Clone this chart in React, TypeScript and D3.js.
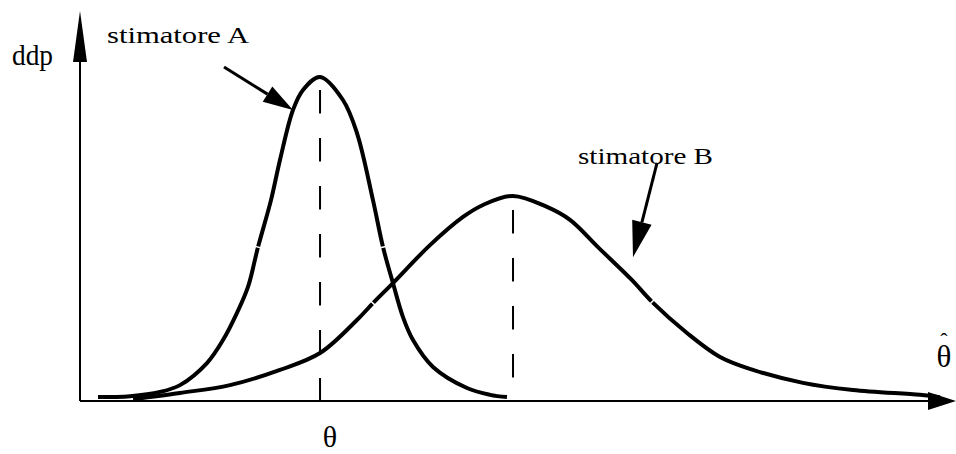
import React from "react";
import * as d3 from "d3";

// ---- data ----
// estimator A density (x in arbitrary θ̂ units 0..100, y density normalised to A's peak)
const curveAX = [2.08, 5.78, 9.25, 11.56, 14.68, 16.53, 18.15, 19.42, 20.58, 22.08, 23.12, 24.62, 25.78, 27.75, 30.4, 32.02, 33.87, 35.03, 36.18, 37.34, 38.5, 40.81, 44.74, 47.4, 49.36];
const curveAY = [0.012, 0.015, 0.028, 0.049, 0.117, 0.188, 0.272, 0.352, 0.475, 0.62, 0.744, 0.898, 0.96, 1.0, 0.929, 0.827, 0.62, 0.475, 0.364, 0.259, 0.188, 0.105, 0.04, 0.019, 0.012];
// estimator B density
const curveBX = [6.13, 11.56, 17.34, 23.12, 27.75, 32.02, 33.87, 36.18, 40.46, 44.28, 46.59, 50.06, 53.99, 56.65, 59.88, 63.82, 66.13, 70.17, 73.99, 77.8, 83.58, 89.36, 97.11, 99.42];
const curveBY = [0.006, 0.025, 0.049, 0.096, 0.148, 0.25, 0.302, 0.364, 0.481, 0.568, 0.605, 0.633, 0.599, 0.559, 0.475, 0.373, 0.306, 0.21, 0.136, 0.096, 0.056, 0.034, 0.019, 0.012];
// little breaks in the drawn strokes (at these x values)
const breaksA = [20.58, 35.03];
const breaksB = [33.87, 66.13];
// annotation arrows: [fromX, fromY, toX, toY] in data units
const arrowA = [16.65, 1.031, 24.62, 0.898];
const arrowB = [66.71, 0.735, 63.93, 0.444];
// texts
const yLabel = "ddp";
const labelA = "stimatore A";
const labelB = "stimatore B";
const thetaLabel = "θ";
const thetaHatLabel = "θ";
const hatMark = "ˆ";

const W = 956;
const H = 454;
const FONT = "Liberation Serif";

const x = d3.scaleLinear().domain([0, 100]).range([80, 945]);
const y = d3.scaleLinear().domain([0, 1]).range([401, 77]);

const line = d3
  .line<[number, number]>()
  .x((d) => x(d[0]))
  .y((d) => y(d[1]))
  .curve(d3.curveCatmullRom.alpha(0.5));

function zip(xs: number[], ys: number[]): [number, number][] {
  return xs.map((v, i) => [v, ys[i]]);
}

function headPoints(x1: number, y1: number, x2: number, y2: number, len: number, hw: number) {
  const dx = x2 - x1;
  const dy = y2 - y1;
  const L = Math.hypot(dx, dy);
  const ux = dx / L;
  const uy = dy / L;
  const bx = x2 - ux * len;
  const by = y2 - uy * len;
  const nx = -uy;
  const ny = ux;
  return {
    pts: `${x2},${y2} ${bx + nx * hw},${by + ny * hw} ${bx - nx * hw},${by - ny * hw}`,
    bx,
    by,
  };
}

function breakMarks(xs: number[], ys: number[], breaks: number[]) {
  return breaks.map((b) => {
    let i = xs.findIndex((v) => v >= b);
    if (i <= 0) i = 1;
    const i0 = Math.max(0, i - 1);
    const i1 = Math.min(xs.length - 1, i + 1);
    const t = (b - xs[i - 1]) / (xs[i] - xs[i - 1]);
    const px = x(b);
    const py = y(ys[i - 1] + t * (ys[i] - ys[i - 1]));
    const dx = x(xs[i1]) - x(xs[i0]);
    const dy = y(ys[i1]) - y(ys[i0]);
    const L = Math.hypot(dx, dy);
    const nx = -dy / L;
    const ny = dx / L;
    return { x1: px - nx * 5, y1: py - ny * 5, x2: px + nx * 5, y2: py + ny * 5 };
  });
}

function Arrow({ a, len, hw }: { a: number[]; len: number; hw: number }) {
  const x1 = x(a[0]);
  const y1 = y(a[1]);
  const x2 = x(a[2]);
  const y2 = y(a[3]);
  const h = headPoints(x1, y1, x2, y2, len, hw);
  return (
    <g>
      <line x1={x1} y1={y1} x2={h.bx} y2={h.by} stroke="#000" strokeWidth={3} />
      <polygon points={h.pts} fill="#000" />
    </g>
  );
}

export default function App() {
  const dataA = zip(curveAX, curveAY);
  const dataB = zip(curveBX, curveBY);
  const peakA = curveAX[d3.maxIndex(curveAY)];
  const peakB = curveBX[d3.maxIndex(curveBY)];
  const y0 = y(0);
  const yHead = headPoints(x(0), y0, x(0), 11, 51, 7);
  const xHead = headPoints(x(0), y0, 956, y0, 28, 9);
  const marks = [...breakMarks(curveAX, curveAY, breaksA), ...breakMarks(curveBX, curveBY, breaksB)];
  const textStyle = { fontFamily: FONT };

  return (
    <svg width={W} height={H} style={{ position: "absolute", left: 0, top: 0 }}>
      <rect x={0} y={0} width={W} height={H} fill="#fff" />
      {/* axes */}
      <line x1={x(0)} y1={y0} x2={x(0)} y2={yHead.by} stroke="#000" strokeWidth={2} />
      <polygon points={yHead.pts} fill="#000" />
      <line x1={x(0)} y1={y0} x2={xHead.bx} y2={y0} stroke="#000" strokeWidth={2} />
      <polygon points={xHead.pts} fill="#000" />

      {/* dashed lines at the peaks */}
      <line
        x1={x(peakA)}
        x2={x(peakA)}
        y1={y(d3.max(curveAY) as number) + 13}
        y2={y0}
        stroke="#000"
        strokeWidth={2}
        strokeDasharray="23.5 24.5"
      />
      <line
        x1={x(peakB)}
        x2={x(peakB)}
        y1={y(d3.max(curveBY) as number) + 14}
        y2={y0}
        stroke="#000"
        strokeWidth={2}
        strokeDasharray="23.5 24.5"
      />

      {/* curves */}
      <path d={line(dataA) || ""} fill="none" stroke="#000" strokeWidth={4} strokeLinejoin="round" />
      <path d={line(dataB) || ""} fill="none" stroke="#000" strokeWidth={4} strokeLinejoin="round" />
      {marks.map((m, i) => (
        <line key={i} x1={m.x1} y1={m.y1} x2={m.x2} y2={m.y2} stroke="#fff" strokeWidth={1.5} />
      ))}

      {/* annotation arrows */}
      <Arrow a={arrowA} len={30} hw={9} />
      <Arrow a={arrowB} len={36} hw={10} />

      {/* texts */}
      <text x={12} y={65} fontFamily={FONT} fontSize={30} textLength={41} lengthAdjust="spacingAndGlyphs" style={textStyle}>
        {yLabel}
      </text>
      <text x={107} y={43} fontFamily={FONT} fontSize={24} textLength={142} lengthAdjust="spacingAndGlyphs" style={textStyle}>
        {labelA}
      </text>
      <text x={578} y={164} fontFamily={FONT} fontSize={24} textLength={135} lengthAdjust="spacingAndGlyphs" style={textStyle}>
        {labelB}
      </text>
      <text x={x(peakA) + 10} y={447} fontFamily={FONT} fontSize={30} textAnchor="middle" style={textStyle}>
        {thetaLabel}
      </text>
      <text x={944} y={367} fontFamily={FONT} fontSize={31} textAnchor="middle" style={textStyle}>
        <tspan>{thetaHatLabel}</tspan>
        <tspan x={944} y={348} fontSize={22}>
          {hatMark}
        </tspan>
      </text>
    </svg>
  );
}
